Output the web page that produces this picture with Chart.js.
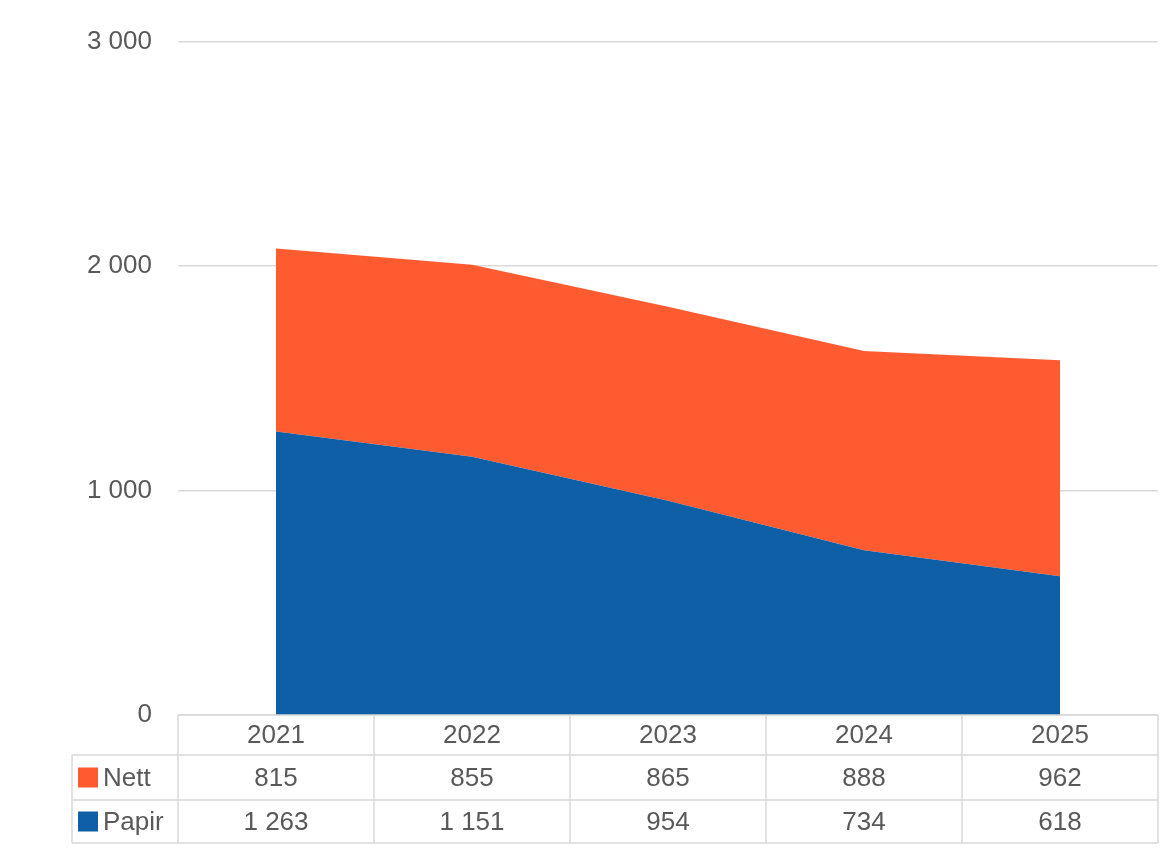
<!DOCTYPE html>
<html>
<head>
<meta charset="utf-8">
<script src="https://cdn.jsdelivr.net/npm/chart.js@4"></script>
<style>
  html, body { margin: 0; padding: 0; background: #fff; }
  #wrap { width: 1163px; height: 864px; }
</style>
</head>
<body>
<div id="wrap"><canvas id="chart"></canvas></div>
<script>
const years = ['2021', '2022', '2023', '2024', '2025'];
const nett = [815, 855, 865, 888, 962];
const papir = [1263, 1151, 954, 734, 618];
const yTicks = [0, 1000, 2000, 3000];

const orange = '#ff5b31';
const blue = '#0f5fa7';
const textColor = '#595959';
const lineColor = '#d9d9d9';
const font = '26px "Liberation Sans", Arial, sans-serif';

function fmt(v) {
  return String(v).replace(/\B(?=(\d{3})+(?!\d))/g, ' ');
}

// data table under the plot, aligned with the x scale
const tablePlugin = {
  id: 'dataTable',
  afterDraw(chart) {
    const ctx = chart.ctx;
    const x = chart.scales.x;
    const area = chart.chartArea;
    const half = (x.getPixelForValue(1) - x.getPixelForValue(0)) / 2;
    const rows = [area.bottom, 755, 800, 843];
    const leftX = 72;
    ctx.save();
    ctx.strokeStyle = lineColor;
    ctx.lineWidth = 1.5;
    ctx.beginPath();
    ctx.moveTo(area.left, rows[0]); ctx.lineTo(area.right, rows[0]);
    for (let r = 1; r < rows.length; r++) {
      ctx.moveTo(leftX, rows[r]); ctx.lineTo(area.right, rows[r]);
    }
    ctx.moveTo(leftX, rows[1]); ctx.lineTo(leftX, rows[3]);
    for (let i = 0; i <= years.length; i++) {
      const px = i < years.length ? x.getPixelForValue(i) - half : x.getPixelForValue(years.length - 1) + half;
      ctx.moveTo(px, rows[0]); ctx.lineTo(px, rows[3]);
    }
    ctx.stroke();

    ctx.font = font;
    ctx.fillStyle = textColor;
    ctx.textAlign = 'center';
    ctx.textBaseline = 'middle';
    const series = [nett, papir];
    years.forEach((yr, i) => {
      const cx = x.getPixelForValue(i);
      ctx.fillText(yr, cx, (rows[0] + rows[1]) / 2 + 1);
      series.forEach((s, r) => {
        ctx.fillText(fmt(s[i]), cx, (rows[r + 1] + rows[r + 2]) / 2 + 1);
      });
    });

    // legend keys
    const keys = [['Nett', orange], ['Papir', blue]];
    ctx.textAlign = 'left';
    keys.forEach((k, r) => {
      const my = (rows[r + 1] + rows[r + 2]) / 2;
      ctx.fillStyle = k[1];
      ctx.fillRect(78, my - 10, 20, 20);
      ctx.fillStyle = textColor;
      ctx.fillText(k[0], 103, my + 1);
    });
    ctx.restore();
  }
};

new Chart(document.getElementById('chart').getContext('2d'), {
  type: 'line',
  data: {
    labels: years,
    datasets: [
      { label: 'Papir', data: papir, backgroundColor: blue, borderWidth: 0, fill: 'origin', pointRadius: 0, tension: 0 },
      { label: 'Nett', data: nett, backgroundColor: orange, borderWidth: 0, fill: '-1', pointRadius: 0, tension: 0 }
    ]
  },
  options: {
    responsive: true,
    maintainAspectRatio: false,
    animation: false,
    layout: { padding: { top: 27, right: 5, bottom: 149, left: 0 } },
    plugins: { legend: { display: false }, tooltip: { enabled: false } },
    scales: {
      x: { display: false, offset: true, grid: { offset: true } },
      y: {
        stacked: true,
        min: 0,
        max: 3000,
        afterFit: s => { s.width = 178; },
        afterBuildTicks: s => { s.ticks = yTicks.map(v => ({ value: v })); },
        border: { display: false },
        grid: { color: lineColor, lineWidth: 1.5, drawTicks: false },
        ticks: {
          padding: 26,
          color: textColor,
          font: { family: '"Liberation Sans", Arial, sans-serif', size: 26 },
          callback: v => fmt(v)
        }
      }
    }
  },
  plugins: [tablePlugin]
});
</script>
</body>
</html>
